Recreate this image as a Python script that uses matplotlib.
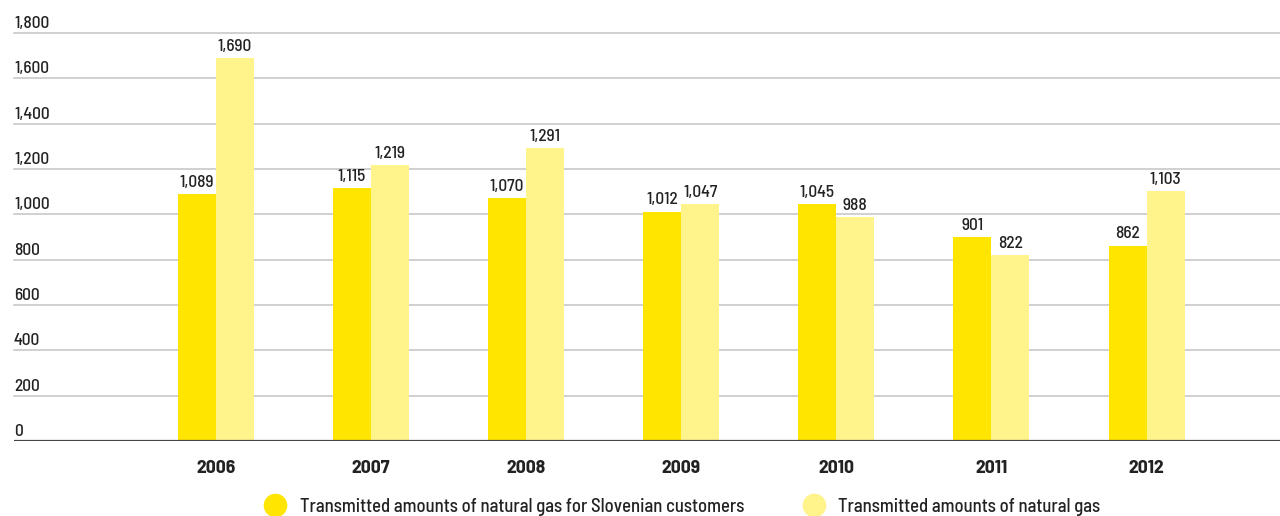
import matplotlib.pyplot as plt
from matplotlib.lines import Line2D
from matplotlib.transforms import blended_transform_factory
import numpy as np

# data
years = ['2006', '2007', '2008', '2009', '2010', '2011', '2012']
slovenian = [1089, 1115, 1070, 1012, 1045, 901, 862]
total = [1690, 1219, 1291, 1047, 988, 822, 1103]
yticks = [0, 200, 400, 600, 800, 1000, 1200, 1400, 1600, 1800]

dark = '#FFE500'
light = '#FFF38C'
txt = '#222222'

plt.rcParams['font.family'] = ['Barlow Semi Condensed', 'DejaVu Sans']
plt.rcParams['font.weight'] = 'medium'

fig = plt.figure(figsize=(12.8, 5.16), dpi=100)
ax = fig.add_axes([14 / 1280, 75 / 516, 1 - 14 / 1280, 408 / 516])

x = np.arange(len(years))
w = 0.245
b1 = ax.bar(x - w / 2, slovenian, w, color=dark, zorder=3)
b2 = ax.bar(x + w / 2, total, w, color=light, zorder=3)

for bars, vals in ((b1, slovenian), (b2, total)):
    for rect, v in zip(bars, vals):
        ax.annotate(f'{v:,}', (rect.get_x() + rect.get_width() / 2, v),
                    xytext=(0, 3), textcoords='offset points',
                    ha='center', va='bottom', fontsize=12.5, color=txt)

ax.set_xlim(-1.30, 6.86)
ax.set_ylim(0, 1800)

# gridlines with labels sitting on top, left-aligned
for t in yticks[1:]:
    ax.axhline(t, color='#c8c8c8', lw=1.2, zorder=1, clip_on=False)
trans = blended_transform_factory(ax.transAxes, ax.transData)
for t in yticks:
    ax.annotate(f'{t:,}', (0, t), xycoords=trans, xytext=(0, 1.5),
                textcoords='offset points', ha='left', va='bottom',
                fontsize=12.5, color=txt)
ax.axhline(0, color='#444444', lw=1.6, zorder=4)

ax.set_yticks([])
ax.set_xticks(x)
ax.set_xticklabels(years, fontsize=14, fontweight='bold', color=txt)
ax.tick_params(axis='x', length=0, pad=14)
for s in ax.spines.values():
    s.set_visible(False)

handles = [Line2D([], [], marker='o', ls='', markersize=16, color=dark),
           Line2D([], [], marker='o', ls='', markersize=16, color=light)]
fig.legend(handles, ['Transmitted amounts of natural gas for Slovenian customers',
                     'Transmitted amounts of natural gas'],
           loc='center', bbox_to_anchor=(0.530, 0.018), ncol=2, frameon=False,
           fontsize=13.5, handletextpad=0.3, columnspacing=2.7, labelcolor=txt)

fig.savefig('out.png', dpi=100)
